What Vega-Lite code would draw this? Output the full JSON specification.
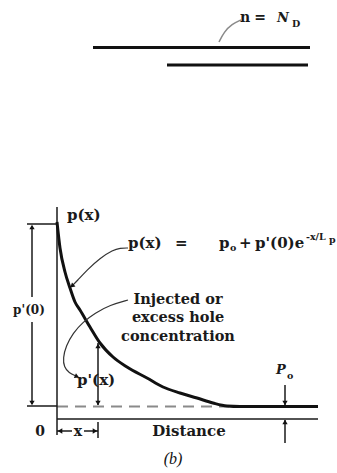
{
  "$schema": "https://vega.github.io/schema/vega-lite/v6.json",
  "width": 337,
  "height": 473,
  "autosize": {"type": "fit", "contains": "padding"},
  "padding": 0,
  "background": "white",
  "config": {"view": {"stroke": null}},
  "datasets": {
    "curve": [
      {"x": 0, "y": 197}, {"x": 3, "y": 171}, {"x": 8, "y": 147}, {"x": 13, "y": 131},
      {"x": 18, "y": 117}, {"x": 23, "y": 109}, {"x": 33, "y": 92}, {"x": 43, "y": 76},
      {"x": 56, "y": 62}, {"x": 70, "y": 52}, {"x": 90, "y": 41}, {"x": 106, "y": 32},
      {"x": 123, "y": 26}, {"x": 140, "y": 21}, {"x": 156, "y": 16}, {"x": 170, "y": 13},
      {"x": 183, "y": 12.5}, {"x": 261, "y": 12.5}
    ],
    "thin": [
      {"x": 0, "y": 212, "x2": 0, "y2": -16},
      {"x": 0, "y": 0, "x2": 261, "y2": 0},
      {"x": -25, "y": 192, "x2": -25, "y2": 122},
      {"x": -25, "y": 97, "x2": -25, "y2": 15},
      {"x": -30, "y": 195, "x2": 0, "y2": 195},
      {"x": -30, "y": 13, "x2": 0, "y2": 13},
      {"x": 41, "y": 76, "x2": 41, "y2": 14},
      {"x": 0, "y": -12, "x2": 15, "y2": -12},
      {"x": 27, "y": -12, "x2": 41, "y2": -12},
      {"x": 41, "y": -3, "x2": 41, "y2": -19},
      {"x": 228, "y": 34, "x2": 228, "y2": 14},
      {"x": 228, "y": -24, "x2": 228, "y2": -1}
    ],
    "bars": [
      {"x": 36, "y": 371.5, "x2": 253, "y2": 371.5},
      {"x": 110, "y": 354, "x2": 251, "y2": 354}
    ],
    "baseline": [{"x": 0, "y": 12.5, "x2": 172, "y2": 12.5}],
    "heads": [
      {"x": -25, "y": 192, "dir": "up"},
      {"x": -25, "y": 16, "dir": "down"},
      {"x": 41, "y": 73, "dir": "up"},
      {"x": 41, "y": 16, "dir": "down"},
      {"x": 3, "y": -12, "dir": "left"},
      {"x": 38, "y": -12, "dir": "right"},
      {"x": 228, "y": 16, "dir": "down"},
      {"x": 228, "y": -3, "dir": "up"}
    ],
    "leaders": [
      {"id": "eq", "i": 0, "x": 71, "y": 171}, {"id": "eq", "i": 1, "x": 63, "y": 171},
      {"id": "eq", "i": 2, "x": 56, "y": 169}, {"id": "eq", "i": 3, "x": 43, "y": 161},
      {"id": "eq", "i": 4, "x": 30, "y": 149}, {"id": "eq", "i": 5, "x": 20, "y": 138},
      {"id": "eq", "i": 6, "x": 15, "y": 133},
      {"id": "inj", "i": 0, "x": 71, "y": 119}, {"id": "inj", "i": 1, "x": 53, "y": 114},
      {"id": "inj", "i": 2, "x": 38, "y": 106}, {"id": "inj", "i": 3, "x": 26, "y": 97},
      {"id": "inj", "i": 4, "x": 16, "y": 86}, {"id": "inj", "i": 5, "x": 9, "y": 73},
      {"id": "inj", "i": 6, "x": 6, "y": 61}, {"id": "inj", "i": 7, "x": 7, "y": 52},
      {"id": "inj", "i": 8, "x": 12, "y": 46}, {"id": "inj", "i": 9, "x": 19, "y": 43}
    ],
    "nd_leader": [
      {"i": 0, "x": 162, "y": 377}, {"i": 1, "x": 167, "y": 387},
      {"i": 2, "x": 175, "y": 395}, {"i": 3, "x": 184, "y": 399}
    ],
    "labels": [
      {"text": "p(x)", "x": 10, "y": 204, "role": "left"},
      {"text": "p(x)", "x": 71, "y": 176, "role": "left"},
      {"text": "=", "x": 118, "y": 176, "role": "left"},
      {"text": "p", "x": 162, "y": 176, "role": "left"},
      {"text": "+", "x": 182, "y": 176, "role": "left"},
      {"text": "p'(0)e", "x": 198, "y": 176, "role": "left"},
      {"text": "p'(x)", "x": 20, "y": 39, "role": "left"},
      {"text": "Injected or", "x": 121, "y": 119, "role": "note"},
      {"text": "excess hole", "x": 121, "y": 101, "role": "note"},
      {"text": "concentration", "x": 121, "y": 82, "role": "note"},
      {"text": "p'(0)", "x": -28, "y": 109, "role": "small"},
      {"text": "0", "x": -17, "y": -13, "role": "center"},
      {"text": "x", "x": 21, "y": -13, "role": "center"},
      {"text": "n", "x": 188, "y": 401, "role": "center"},
      {"text": "=", "x": 203, "y": 401, "role": "center"},
      {"text": "Distance", "x": 132, "y": -12, "role": "big"},
      {"text": "N", "x": 226, "y": 401, "role": "italic"},
      {"text": "P", "x": 224, "y": 49, "role": "italic"},
      {"text": "o", "x": 173, "y": 171, "role": "sub"},
      {"text": "o", "x": 230, "y": 43, "role": "sub"},
      {"text": "D", "x": 235, "y": 395, "role": "sub"},
      {"text": "-x/L", "x": 249, "y": 182, "role": "sup"},
      {"text": "p", "x": 272, "y": 179, "role": "sup"},
      {"text": "(b)", "x": 116, "y": -40, "role": "caption"}
    ]
  },
  "encoding": {
    "x": {"field": "x", "type": "quantitative", "axis": null,
          "scale": {"domain": [-57, 280], "nice": false, "zero": false}},
    "y": {"field": "y", "type": "quantitative", "axis": null,
          "scale": {"domain": [-54, 419], "nice": false, "zero": false}}
  },
  "layer": [
    {
      "data": {"name": "baseline"},
      "mark": {"type": "rule", "color": "#8a8a8a", "strokeWidth": 2, "strokeDash": [11, 7]},
      "encoding": {"x2": {"field": "x2"}, "y2": {"field": "y2"}}
    },
    {
      "data": {"name": "thin"},
      "mark": {"type": "rule", "color": "#1a1a1a", "strokeWidth": 1.5},
      "encoding": {"x2": {"field": "x2"}, "y2": {"field": "y2"}}
    },
    {
      "data": {"name": "bars"},
      "mark": {"type": "rule", "color": "#111", "strokeWidth": 3},
      "encoding": {"x2": {"field": "x2"}, "y2": {"field": "y2"}}
    },
    {
      "data": {"name": "curve"},
      "mark": {"type": "line", "color": "#111", "strokeWidth": 3, "interpolate": "monotone"},
      "encoding": {}
    },
    {
      "data": {"name": "leaders"},
      "mark": {"type": "line", "color": "#333", "strokeWidth": 1.2, "interpolate": "basis"},
      "encoding": {"detail": {"field": "id"}, "order": {"field": "i", "type": "quantitative"}}
    },
    {
      "data": {"name": "nd_leader"},
      "mark": {"type": "line", "color": "#8a8a8a", "strokeWidth": 1.5, "interpolate": "basis"},
      "encoding": {"order": {"field": "i", "type": "quantitative"}}
    },
    {
      "data": {"name": "heads"},
      "mark": {"type": "point", "filled": true, "color": "#111", "size": 28, "opacity": 1},
      "encoding": {
        "shape": {"field": "dir", "type": "nominal", "legend": null,
                  "scale": {"domain": ["up", "down", "left", "right"],
                            "range": ["triangle-up", "triangle-down", "triangle-left", "triangle-right"]}}
      }
    },
    {
      "data": {"values": [{"x": 15, "y": 133}]},
      "mark": {"type": "point", "shape": "triangle-up", "angle": 229, "filled": true, "color": "#111", "size": 28, "opacity": 1}
    },
    {
      "data": {"values": [{"x": 20, "y": 42.5}]},
      "mark": {"type": "point", "shape": "triangle-up", "angle": 114, "filled": true, "color": "#111", "size": 28, "opacity": 1}
    },
    {
      "data": {"name": "labels"},
      "transform": [{"filter": "datum.role === 'left'"}],
      "mark": {"type": "text", "align": "left", "baseline": "middle", "font": "DejaVu Serif", "fontWeight": "bold", "fontSize": 15, "color": "#1a1a1a"},
      "encoding": {"text": {"field": "text"}}
    },
    {
      "data": {"name": "labels"},
      "transform": [{"filter": "datum.role === 'center'"}],
      "mark": {"type": "text", "align": "center", "baseline": "middle", "font": "DejaVu Serif", "fontWeight": "bold", "fontSize": 14, "color": "#1a1a1a"},
      "encoding": {"text": {"field": "text"}}
    },
    {
      "data": {"name": "labels"},
      "transform": [{"filter": "datum.role === 'note'"}],
      "mark": {"type": "text", "align": "center", "baseline": "middle", "font": "DejaVu Serif", "fontWeight": "bold", "fontSize": 14.5, "color": "#1a1a1a"},
      "encoding": {"text": {"field": "text"}}
    },
    {
      "data": {"name": "labels"},
      "transform": [{"filter": "datum.role === 'small'"}],
      "mark": {"type": "text", "align": "center", "baseline": "middle", "font": "DejaVu Serif", "fontWeight": "bold", "fontSize": 12, "color": "#1a1a1a"},
      "encoding": {"text": {"field": "text"}}
    },
    {
      "data": {"name": "labels"},
      "transform": [{"filter": "datum.role === 'big'"}],
      "mark": {"type": "text", "align": "center", "baseline": "middle", "font": "DejaVu Serif", "fontWeight": "bold", "fontSize": 15, "color": "#1a1a1a"},
      "encoding": {"text": {"field": "text"}}
    },
    {
      "data": {"name": "labels"},
      "transform": [{"filter": "datum.role === 'italic'"}],
      "mark": {"type": "text", "align": "center", "baseline": "middle", "font": "DejaVu Serif", "fontWeight": "bold", "fontStyle": "italic", "fontSize": 13, "color": "#1a1a1a"},
      "encoding": {"text": {"field": "text"}}
    },
    {
      "data": {"name": "labels"},
      "transform": [{"filter": "datum.role === 'sub' || datum.role === 'sup'"}],
      "mark": {"type": "text", "align": "left", "baseline": "middle", "font": "DejaVu Serif", "fontWeight": "bold", "fontSize": 9.5, "color": "#1a1a1a"},
      "encoding": {"text": {"field": "text"}}
    },
    {
      "data": {"name": "labels"},
      "transform": [{"filter": "datum.role === 'caption'"}],
      "mark": {"type": "text", "align": "center", "baseline": "middle", "font": "Liberation Serif", "fontStyle": "italic", "fontSize": 16, "color": "#111"},
      "encoding": {"text": {"field": "text"}}
    }
  ]
}
